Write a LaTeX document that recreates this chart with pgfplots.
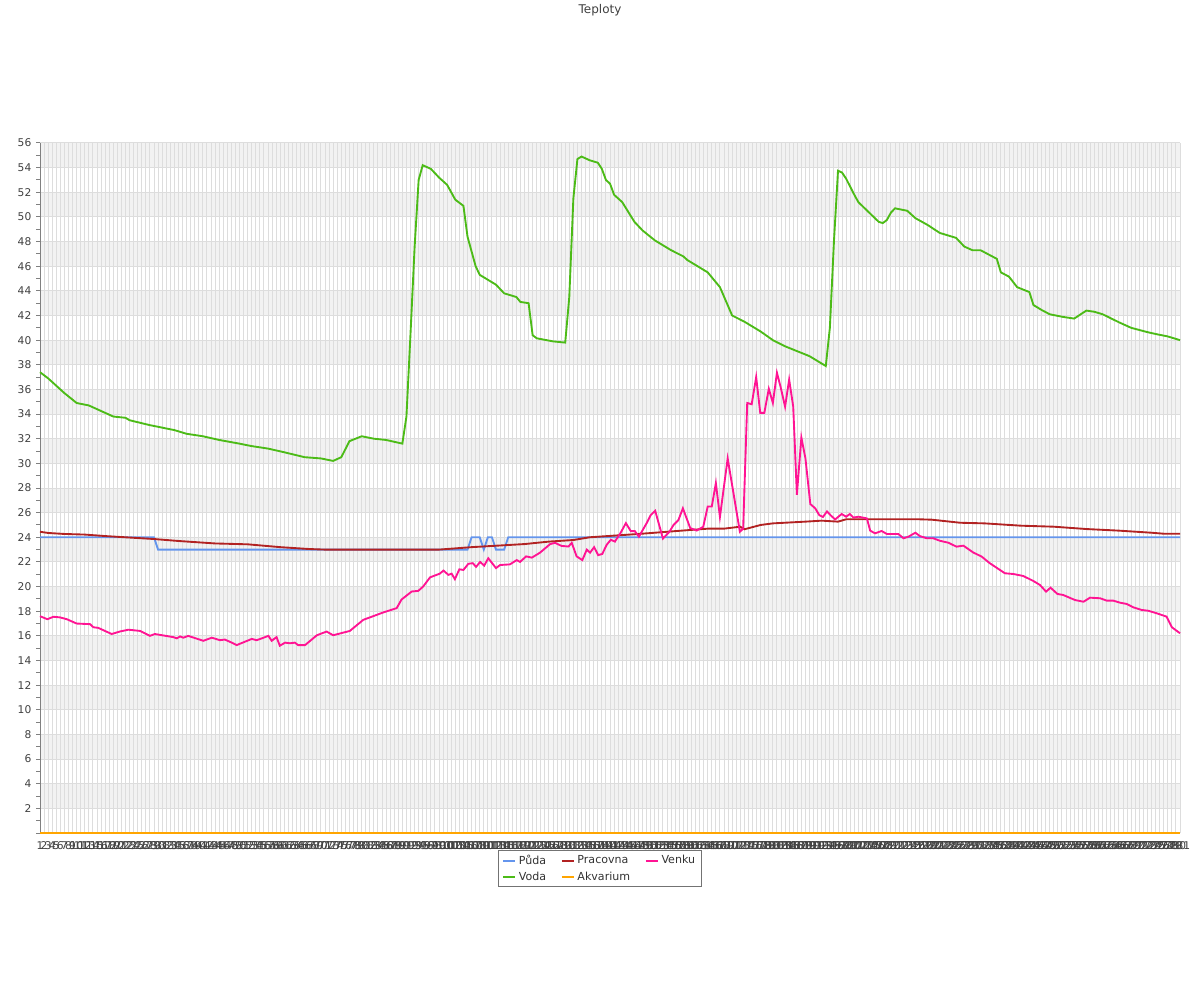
\documentclass[border=0pt]{standalone}
\usepackage{fontspec}
\setmainfont{DejaVu Sans}
\usepackage{pgfplots}
\pgfplotsset{compat=1.18}

\definecolor{puda}{HTML}{6495ED}
\definecolor{voda}{HTML}{4CBB17}
\definecolor{pracovna}{HTML}{B22222}
\definecolor{akvarium}{HTML}{FFA500}
\definecolor{venku}{HTML}{FF1493}
\definecolor{band}{HTML}{F2F2F2}
\definecolor{gridc}{HTML}{DDDDDD}

\begin{document}
\begin{tikzpicture}[font=\fontsize{8}{9.6}\selectfont]
\begin{axis}[
    set layers,
    scale only axis,
    width=855pt, height=517.5pt,
    xmin=1, xmax=281, ymin=0, ymax=56,
    clip=false,
    axis x line*=bottom, axis y line*=left,
    axis line style={black!50, line width=0.75pt},
    xtick={1,...,281},
    xmajorgrids,
    major x tick style={draw=none},
    ytick={2,4,...,56},
    minor ytick={1,3,...,55},
    extra y ticks={0}, extra y tick labels={},
    ymajorgrids,
    grid style={gridc, line width=0.75pt},
    tick align=outside,
    major tick length=3pt, minor tick length=3pt,
    every tick/.style={black!50, line width=0.75pt},
    tick label style={black!75},
    /pgf/number format/assume math mode=true,
    title={Teploty},
    title style={at={(0.5,1)}, anchor=center, yshift=93.5pt, xshift=-7.5pt,
        font=\fontsize{9}{11}\selectfont, black!75},
    legend columns=3,
    legend cell align=left,
    legend style={at={(0.4912,0)}, anchor=north, yshift=-12.75pt,
        draw=black!55, line width=0.6pt, text=black!80,
        font=\fontsize{8.3}{10}\selectfont,
        inner xsep=3pt, inner ysep=1.5pt, row sep=0pt,
        /tikz/every even column/.append style={column sep=9pt}},
    legend image code/.code={\draw[#1, line width=1.5pt] (0pt,0pt) -- (9pt,0pt);},
    every axis plot/.append style={line width=1.4pt},
]
\begin{pgfonlayer}{axis background}
\pgfplotsinvokeforeach{2,6,...,54}{
  \fill[band] (axis cs:1,#1) rectangle (axis cs:281,#1+2);
}
\end{pgfonlayer}
\coordinate (SW) at (rel axis cs:0,0);
\coordinate (NE) at (rel axis cs:1,1);

% Puda
\addplot[puda, forget plot] coordinates {
(1,24) (29,24) (30,23) (106,23) (107,24) (109,24) (110,23) (111,24) (112,24)
(113,23) (115,23) (116,24) (281,24)
};

% Voda
\addplot[voda, forget plot] coordinates {
(1,37.4)(3,36.9)(7,35.7)(10,34.9)(13,34.7)(15,34.4)(17,34.1)(19,33.8)(22,33.7)
(23,33.5)(28,33.1)(34,32.7)(37,32.4)(41,32.2)(45,31.9)(50,31.6)(53,31.4)(57,31.2)
(61,30.9)(66,30.5)(70,30.4)(73,30.2)(75,30.5)(77,31.8)(80,32.2)(83,32.0)(86,31.9)
(90,31.6)(91,33.8)(92,40.5)(93,47.5)(94,53.0)(95,54.2)(97,53.9)(99,53.2)(101,52.6)
(103,51.4)(105,50.9)(106,48.4)(108,46.0)(109,45.3)(113,44.5)(115,43.8)(118,43.5)
(119,43.1)(121,43.0)(122,40.4)(123,40.15)(127,39.9)(130,39.8)(131,43.5)(132,51.5)
(133,54.7)(134,54.9)(136,54.6)(138,54.4)(139,53.9)(140,53.0)(141,52.7)(142,51.8)
(144,51.2)(147,49.6)(149,48.9)(152,48.1)(156,47.3)(159,46.8)(160,46.5)(162,46.1)
(165,45.5)(168,44.3)(171,42.0)(174,41.5)(178,40.7)(181,40.0)(184,39.5)(187,39.1)
(190,38.7)(192,38.3)(194,37.9)(195,41.0)(196,48.0)(197,53.75)(198,53.6)(199,53.1)
(201,51.8)(202,51.2)(207,49.6)(208,49.5)(209,49.75)(210,50.35)(211,50.7)(214,50.5)
(216,49.9)(219,49.35)(222,48.7)(226,48.3)(228,47.6)(230,47.3)(232,47.3)(236,46.6)
(237,45.5)(239,45.15)(241,44.3)(244,43.9)(245,42.85)(247,42.45)(249,42.1)(252,41.9)
(255,41.75)(258,42.4)(260,42.3)(262,42.1)(266,41.45)(269,41.0)(273,40.65)(275,40.5)
(278,40.3)(281,40.0)
};

% Pracovna
\addplot[pracovna, forget plot] coordinates {
(1,24.45)(3,24.35)(7,24.27)(12,24.22)(17,24.1)(29,23.86)(35,23.7)(44,23.5)(52,23.43)
(60,23.2)(67,23.05)(71,23.0)(99,23.0)(107,23.2)(120,23.45)(126,23.65)(132,23.78)
(136,24.0)(148,24.27)(152,24.37)(157,24.5)(165,24.7)(169,24.7)(173,24.86)(174,24.65)
(178,25.0)(181,25.13)(189,25.27)(193,25.35)(197,25.27)(199,25.46)(217,25.46)
(220,25.43)(227,25.18)(233,25.13)(242,24.94)(250,24.86)(258,24.67)(266,24.54)
(274,24.37)(277,24.29)(281,24.29)
};

% Akvarium
\addplot[akvarium, forget plot] coordinates {(1,0) (281,0)};

% Venku
\addplot[venku, forget plot] coordinates {
(1.0,17.6)(2.8,17.35)(4.3,17.55)(5.9,17.5)(7.6,17.35)(10.0,17.0)(13.3,16.95)
(14.1,16.7)(15.3,16.65)(18.6,16.15)(20.6,16.35)(22.7,16.5)(25.6,16.4)(28.0,16.0)
(29.2,16.15)(33.7,15.9)(34.6,15.8)(35.4,15.95)(36.2,15.85)(37.4,16.0)(41.1,15.6)
(43.2,15.85)(45.2,15.65)(46.4,15.7)(48.1,15.45)(49.3,15.25)(53.0,15.75)(54.2,15.65)
(55.5,15.8)(57.1,16.0)(57.9,15.6)(59.1,15.9)(59.9,15.2)(61.2,15.45)(62.4,15.4)
(63.6,15.45)(64.4,15.25)(66.1,15.25)(69.0,16.05)(71.4,16.35)(73.0,16.05)(77.1,16.4)
(80.4,17.3)(85.3,17.9)(88.6,18.25)(89.8,18.95)(92.3,19.6)(93.9,19.65)(95.1,20.0)
(96.8,20.75)(99.2,21.05)(100.1,21.3)(101.3,20.95)(102.1,21.05)(102.9,20.6)(104.0,21.4)
(105.0,21.35)(106.2,21.85)(107.3,21.9)(108.1,21.6)(109.1,22.0)(110.1,21.7)(111.1,22.3)
(113.0,21.5)(114.0,21.75)(116.4,21.8)(118.1,22.15)(118.9,22.0)(120.4,22.45)
(121.8,22.35)(123.8,22.75)(126.3,23.45)(127.5,23.55)(129.1,23.3)(130.8,23.25)
(131.6,23.55)(132.8,22.45)(134.2,22.15)(135.3,23.0)(136.1,22.75)(137.1,23.2)
(138.1,22.55)(139.1,22.65)(140.2,23.4)(141.2,23.8)(142.2,23.65)(143.5,24.3)
(144.9,25.15)(146.1,24.5)(147.1,24.5)(148.1,24.05)(150.0,25.15)(151.0,25.8)
(152.1,26.15)(154.0,23.9)(155.6,24.45)(156.6,25.0)(157.8,25.4)(158.9,26.35)
(159.8,25.55)(160.7,24.75)(162.3,24.55)(163.9,24.85)(165.0,26.5)(166.0,26.5)
(167.0,28.4)(168.0,25.65)(169.9,30.4)(172.9,24.45)(173.7,24.7)(174.7,34.9)
(175.8,34.8)(176.9,37.0)(177.9,34.1)(178.9,34.1)(180.0,36.05)(181.0,34.9)
(182.0,37.35)(182.9,36.2)(184.0,34.6)(185.0,36.8)(186.0,34.6)(186.9,27.45)
(188.0,32.1)(189.0,30.4)(190.2,26.7)(191.4,26.35)(192.4,25.8)(193.3,25.65)
(194.3,26.1)(195.3,25.75)(196.3,25.45)(197.9,25.89)(199.0,25.67)(199.9,25.89)
(200.8,25.6)(202.0,25.67)(204.1,25.53)(204.9,24.54)(206.1,24.32)(207.7,24.51)
(209.0,24.27)(211.8,24.27)(213.1,23.92)(214.3,24.05)(216.0,24.37)(217.1,24.1)
(218.8,23.92)(220.4,23.92)(222.0,23.72)(224.1,23.56)(226.1,23.24)(227.8,23.32)
(230.2,22.77)(232.3,22.43)(234.3,21.89)(238.0,21.08)(240.1,21.02)(242.5,20.86)
(245.0,20.45)(246.6,20.13)(248.1,19.59)(249.2,19.91)(250.9,19.4)(252.3,19.32)
(255.2,18.91)(257.3,18.77)(258.9,19.1)(261.4,19.05)(263.0,18.86)(264.6,18.86)
(266.3,18.69)(267.9,18.59)(269.5,18.32)(271.6,18.1)(273.2,18.04)(275.3,17.83)
(277.7,17.56)(279.0,16.7)(281.0,16.21)
};

\addlegendimage{puda}\addlegendentry{Půda}
\addlegendimage{pracovna}\addlegendentry{Pracovna}
\addlegendimage{venku}\addlegendentry{Venku}
\addlegendimage{voda}\addlegendentry{Voda}
\addlegendimage{akvarium}\addlegendentry{Akvarium}
\end{axis}
\pgfresetboundingbox
\path[use as bounding box] ([shift={(-30pt,-125.25pt)}]SW) rectangle ([shift={(15pt,107.25pt)}]NE);
\end{tikzpicture}
\end{document}
